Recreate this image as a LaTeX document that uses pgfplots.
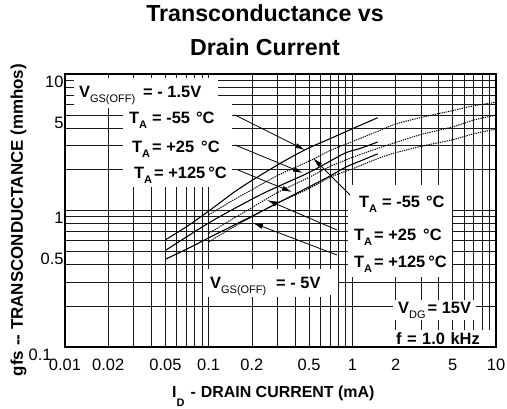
\documentclass[border=0pt]{standalone}
\usepackage{fontspec}
\setmainfont{Liberation Sans}
\usepackage{pgfplots}
\pgfplotsset{compat=1.18}
\usetikzlibrary{arrows.meta}
\newcommand{\sub}[1]{\raisebox{-5bp}{\fontsize{11}{11}\selectfont #1}}
\begin{document}
\begin{tikzpicture}[x=1bp,y=1bp,
  lab/.style={font=\fontsize{16.5}{16.5}\selectfont\bfseries, inner sep=2bp, fill=white, anchor=base west},
  arr/.style={line width=0.8bp, -{Latex[length=10bp,width=5bp]}}]
\useasboundingbox (-65,-61) rectangle (442,347);
\begin{axis}[
  at={(0,0)}, anchor=south west,
  scale only axis, width=431bp, height=273bp,
  xmode=log, ymode=log, xmin=0.01, xmax=10, ymin=0.1, ymax=10,
  xtick={0.01,0.02,0.05,0.1,0.2,0.5,1,2,5,10},
  xticklabels={0.01,0.02,0.05,0.1,0.2,0.5,1,2,5,10},
  minor xtick={0.03,0.04,0.06,0.07,0.08,0.09,0.3,0.4,0.6,0.7,0.8,0.9,3,4,6,7,8,9},
  ytick={0.1,0.5,1,5,10}, yticklabels={0.1\rule{12bp}{0pt},0.5,1,5,10},
  minor ytick={0.2,0.3,0.4,0.6,0.7,0.8,0.9,2,3,4,6,7,8,9},
  grid=both,
  major grid style={black!90, line width=0.75bp},
  minor grid style={black!90, line width=0.75bp},
  major tick length=0pt, minor tick length=0pt,
  axis line style={black, line width=1.2bp},
  /pgf/number format/assume math mode=true,
  typeset ticklabels with strut,
  tick label style={font=\fontsize{16.5}{16.5}\selectfont},
  xticklabel style={anchor=north, yshift=-8bp},
  yticklabel style={anchor=east, xshift=2bp, yshift=-10bp},
]
% V_GS(OFF) = -1.5 V (solid)
\addplot[black, line width=1.1bp, smooth] coordinates {
 (0.05,0.61) (0.07,0.76) (0.1,0.99) (0.15,1.36) (0.2,1.66) (0.3,2.15) (0.386,2.5) (0.5,2.88) (0.7,3.36) (0.86,3.7) (1.0,3.97) (1.25,4.4) (1.5,4.78)};
\addplot[black, line width=1.1bp, smooth] coordinates {
 (0.05,0.51) (0.07,0.64) (0.1,0.81) (0.15,1.03) (0.228,1.30) (0.3,1.49) (0.5,1.90) (0.7,2.3) (0.9,2.65) (1.1,2.82) (1.3,3.0) (1.5,3.18)};
\addplot[black, line width=1.1bp, smooth] coordinates {
 (0.05,0.44) (0.07,0.52) (0.1,0.63) (0.15,0.78) (0.228,0.975) (0.3,1.13) (0.5,1.49) (0.7,1.79) (0.9,2.08) (1.2,2.36) (1.5,2.6)};
% V_GS(OFF) = -5 V (dotted)
\addplot[black, line width=1bp, dash pattern=on 1.3bp off 1bp, smooth] coordinates {
 (0.1,0.93) (0.15,1.2) (0.2,1.42) (0.3,1.8) (0.5,2.3) (0.7,2.75) (1,3.2) (1.5,3.8) (2,4.3) (3,4.8) (5,5.4) (7,5.85) (10,6.2)};
\addplot[black, line width=1bp, dash pattern=on 1.3bp off 1bp, smooth] coordinates {
 (0.1,0.68) (0.15,0.88) (0.2,1.05) (0.3,1.35) (0.5,1.75) (0.7,2.1) (1,2.45) (1.5,2.85) (2,3.15) (3,3.6) (5,4.1) (7,4.6) (10,5.0)};
\addplot[black, line width=1bp, dash pattern=on 1.3bp off 1bp, smooth] coordinates {
 (0.1,0.59) (0.15,0.76) (0.2,0.9) (0.3,1.13) (0.5,1.45) (0.7,1.75) (1,2.02) (1.5,2.4) (2,2.65) (3,2.95) (5,3.3) (7,3.65) (10,3.95)};
\end{axis}
% white blocks
\fill[white] (9,239) rectangle (153,269);
\fill[white] (58,160) rectangle (167,243);
\fill[white] (283,70) rectangle (387,162);
\fill[white] (138,52) rectangle (273,78);
% labels
\node[lab] at (12,250) {V\sub{\mdseries GS(OFF)}\hspace{8bp}= - 1.5V};
\node[lab] at (62,224) {T\sub{A}\hspace{5bp}= -55\hspace{6bp}°C};
\node[lab] at (65,195) {T\sub{A}\hspace{2bp}= +25\hspace{7bp}°C};
\node[lab] at (67,169) {T\sub{A}\hspace{2bp}= +125\hspace{3bp}°C};
\node[lab] at (292,140) {T\sub{A}\hspace{5bp}= -55\hspace{6bp}°C};
\node[lab] at (287,107) {T\sub{A}\hspace{2bp}= +25\hspace{7bp}°C};
\node[lab] at (287,80) {T\sub{A}\hspace{2bp}= +125\hspace{3bp}°C};
\node[lab] at (143,59) {V\sub{\mdseries GS(OFF)}\hspace{10bp}= - 5V};
\node[lab, inner xsep=5bp] at (328,34) {V\sub{\mdseries DG}\hspace{2bp}= 15V};
\node[lab, inner xsep=5bp, text width=98bp] at (323,3) {\hspace{3bp}f = 1.0 kHz};
% arrows
\draw[arr] (170,232) -- (240,197);
\draw[arr] (170,202) -- (238,174);
\draw[arr] (173,177) -- (227,155);
\draw[arr] (285,152) -- (248,189);
\draw[arr] (272,117) -- (202,147);
\draw[arr] (272,92) -- (188,124);
\draw[line width=1.2bp] (0,0) rectangle (431,273);
% axis labels and title
\node[anchor=base west, inner sep=0pt, font=\fontsize{16}{16}\selectfont\bfseries] at (107,-50)
  {I\raisebox{-9bp}{\fontsize{11}{11}\selectfont D}\hspace{6bp}-\hspace{5bp}DRAIN CURRENT (mA)};
\node[anchor=base, inner sep=0pt, rotate=90, font=\fontsize{17}{17}\selectfont\bfseries] at (-42,127)
  {gfs -{}- TRANSCONDUCTANCE (mmhos)};
\node[anchor=base, inner sep=0pt, font=\fontsize{23.3}{23.3}\selectfont\bfseries] at (200,326) {Transconductance vs};
\node[anchor=base, inner sep=0pt, font=\fontsize{23.3}{23.3}\selectfont\bfseries] at (200,292) {Drain Current};
\end{tikzpicture}
\end{document}
